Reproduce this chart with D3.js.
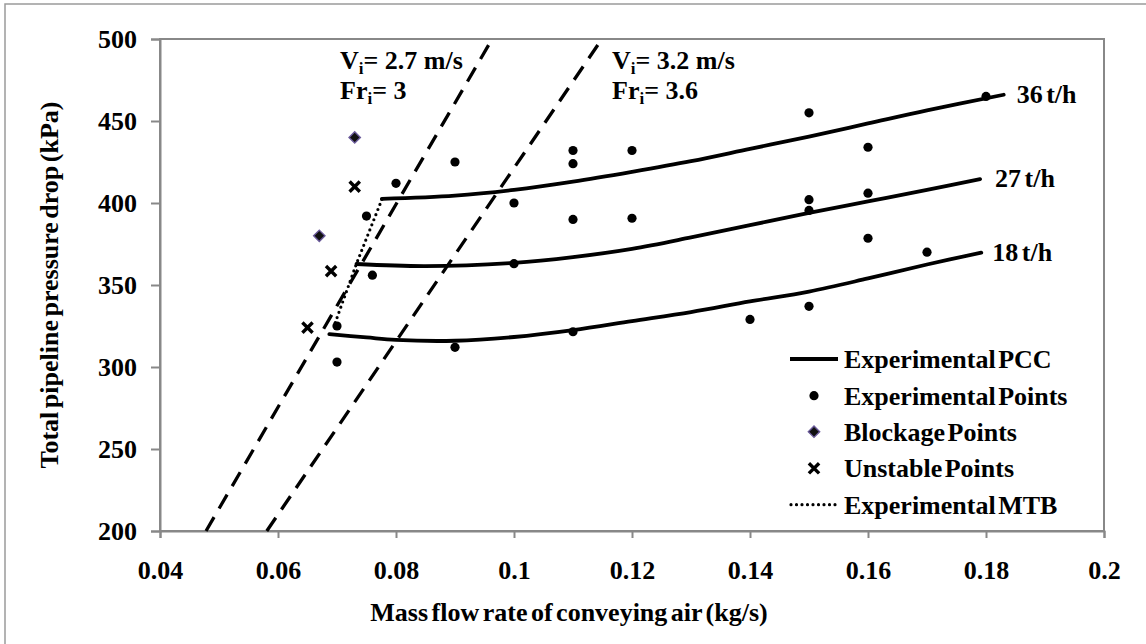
<!DOCTYPE html>
<html>
<head>
<meta charset="utf-8">
<script src="https://cdn.jsdelivr.net/npm/d3@7"></script>
<style>
  body { margin: 0; background: #fff; }
  svg { display: block; font-family: "Liberation Serif", "Times New Roman", serif; font-weight: bold; }
</style>
</head>
<body>
<svg id="chart" width="1146" height="644"></svg>
<script>
// Axis ticks
const xTicks = [0.04, 0.06, 0.08, 0.1, 0.12, 0.14, 0.16, 0.18, 0.2];
const xTickLabels = ["0.04", "0.06", "0.08", "0.1", "0.12", "0.14", "0.16", "0.18", "0.2"];
const yTicks = [200, 250, 300, 350, 400, 450, 500];

// Pressure conveying characteristics (air mass flow kg/s, pressure drop kPa)
const pcc36 = [[0.0776, 402.5], [0.09, 404.5], [0.10, 408], [0.11, 413], [0.12, 419],
               [0.13, 425.5], [0.14, 433], [0.15, 440.5], [0.16, 448.5], [0.17, 456.5], [0.183, 466]];
const pcc27 = [[0.0733, 362.8], [0.085, 361.5], [0.10, 363.5], [0.11, 367], [0.12, 372],
               [0.13, 379], [0.14, 386.5], [0.15, 394], [0.16, 401], [0.17, 408], [0.179, 414.6]];
const pcc18 = [[0.0687, 320], [0.075, 318], [0.08, 316.5], [0.09, 316], [0.10, 318.3], [0.11, 322.5],
               [0.12, 328], [0.13, 333.5], [0.14, 340], [0.15, 346], [0.16, 354], [0.17, 362.5], [0.1792, 369.7]];
const pccLabels = ["36 t/h", "27 t/h", "18 t/h"];

// Measured operating points
const experimentalPoints = [
  [0.07, 303], [0.07, 325], [0.075, 392], [0.076, 356], [0.08, 412], [0.09, 425], [0.09, 312],
  [0.10, 400], [0.10, 363], [0.11, 432], [0.11, 424], [0.11, 390], [0.11, 321.5], [0.12, 432],
  [0.12, 390.7], [0.14, 329], [0.15, 455], [0.15, 402], [0.15, 395.5], [0.15, 337], [0.16, 434],
  [0.16, 406], [0.16, 378.5], [0.17, 370], [0.18, 465]
];
const blockagePoints = [[0.073, 440], [0.067, 380]];
const unstablePoints = [[0.073, 410], [0.069, 358.5], [0.065, 324]];

// Minimum transport boundary
const mtb = [[0.0697, 327], [0.0733, 363], [0.0777, 403]];

// Constant inlet velocity lines
const velocity27 = [[0.0478, 200], [0.0963, 500]];
const velocity32 = [[0.0581, 200], [0.1149, 500]];

const legendLabels = ["Experimental PCC", "Experimental Points", "Blockage Points", "Unstable Points", "Experimental MTB"];

const svg = d3.select("#chart");
const FONT = 26;

// Outer frame of the chart
svg.append("rect")
  .attr("x", 5).attr("y", 4).attr("width", 1160).attr("height", 660)
  .attr("fill", "#fff").attr("stroke", "#9a9a9a").attr("stroke-width", 1.5);

const x = d3.scaleLinear().domain([0.04, 0.2]).range([160, 1104]);
const y = d3.scaleLinear().domain([200, 500]).range([531, 39]);

// Plot area border
svg.append("rect")
  .attr("x", x(0.04)).attr("y", y(500))
  .attr("width", x(0.2) - x(0.04)).attr("height", y(200) - y(500))
  .attr("fill", "none").attr("stroke", "#888").attr("stroke-width", 2);

// Y axis
const yAxis = svg.append("g")
  .attr("transform", `translate(${x(0.04)},0)`)
  .call(d3.axisLeft(y).tickValues(yTicks).tickSize(9).tickPadding(14).tickFormat(d3.format("d")));
yAxis.select(".domain").attr("stroke", "#888").attr("stroke-width", 2);
yAxis.selectAll(".tick line").attr("stroke", "#888").attr("stroke-width", 2);
yAxis.selectAll(".tick text")
  .attr("font-size", FONT).attr("font-family", "Liberation Serif, serif").attr("font-weight", "bold")
  .attr("fill", "#000").attr("dy", "0.34em");

// X axis
const xAxis = svg.append("g")
  .attr("transform", `translate(0,${y(200)})`)
  .call(d3.axisBottom(x).tickValues(xTicks).tickSize(7).tickFormat((d, i) => xTickLabels[i]));
xAxis.select(".domain").attr("stroke", "#888").attr("stroke-width", 2);
xAxis.selectAll(".tick line").attr("stroke", "#888").attr("stroke-width", 2);
xAxis.selectAll(".tick text")
  .attr("font-size", FONT).attr("font-family", "Liberation Serif, serif").attr("font-weight", "bold")
  .attr("fill", "#000").attr("dy", null).attr("y", 48);

// Axis titles
svg.append("text")
  .attr("x", 569).attr("y", 621)
  .attr("text-anchor", "middle").attr("font-size", FONT).attr("word-spacing", -3)
  .text("Mass flow rate of conveying air (kg/s)");
svg.append("text")
  .attr("transform", `translate(58,${(y(200) + y(500)) / 2}) rotate(-90)`)
  .attr("text-anchor", "middle").attr("font-size", FONT).attr("word-spacing", -3)
  .text("Total pipeline pressure drop (kPa)");

const line = d3.line().x(d => x(d[0])).y(d => y(d[1]));
const smooth = d3.line().x(d => x(d[0])).y(d => y(d[1])).curve(d3.curveCatmullRom.alpha(0.5));

// Constant velocity lines
[velocity27, velocity32].forEach(v => {
  svg.append("path").attr("d", line(v))
    .attr("fill", "none").attr("stroke", "#000").attr("stroke-width", 3.3)
    .attr("stroke-dasharray", "16,10");
});

// Conveying characteristics
[pcc36, pcc27, pcc18].forEach(c => {
  svg.append("path").attr("d", smooth(c))
    .attr("fill", "none").attr("stroke", "#000").attr("stroke-width", 3.8)
    .attr("stroke-linecap", "round");
});

// Minimum transport boundary
svg.append("path").attr("d", line(mtb))
  .attr("fill", "none").attr("stroke", "#000").attr("stroke-width", 3.2)
  .attr("stroke-linecap", "round").attr("stroke-dasharray", "0,5.5");

// Markers
const diamond = d3.symbol().type(d3.symbolDiamond2).size(82);
const cross = d3.symbol().type(d3.symbolX).size(70);

svg.append("g").selectAll("circle").data(experimentalPoints).join("circle")
  .attr("cx", d => x(d[0])).attr("cy", d => y(d[1])).attr("r", 4.6).attr("fill", "#000");

svg.append("g").selectAll("path").data(blockagePoints).join("path")
  .attr("d", diamond).attr("transform", d => `translate(${x(d[0])},${y(d[1])})`)
  .attr("fill", "#111").attr("stroke", "#6a5a9a").attr("stroke-width", 1.4);

svg.append("g").selectAll("path").data(unstablePoints).join("path")
  .attr("d", cross).attr("transform", d => `translate(${x(d[0])},${y(d[1])})`)
  .attr("fill", "none").attr("stroke", "#000").attr("stroke-width", 3.4);

// Curve labels, placed after each curve end
[pcc36, pcc27, pcc18].forEach((c, i) => {
  const end = c[c.length - 1];
  svg.append("text")
    .attr("x", x(end[0]) + [13, 15, 11][i]).attr("y", y(end[1]) + 8)
    .attr("font-size", FONT).attr("word-spacing", -3)
    .text(pccLabels[i]);
});

// Velocity / Froude annotations
function annot(px, py, sym, value) {
  const t = svg.append("text").attr("x", px).attr("y", py).attr("font-size", FONT);
  t.append("tspan").text(sym);
  t.append("tspan").attr("font-size", 17).attr("dy", 5).text("i");
  t.append("tspan").attr("dy", -5).text("= " + value);
}
annot(340, 69, "V", "2.7 m/s");
annot(340, 99, "Fr", "3");
annot(612, 69, "V", "3.2 m/s");
annot(612, 99, "Fr", "3.6");

// Legend
const legendRows = [359, 395.7, 431.7, 468.3, 504.7];
const lg = svg.append("g");
lg.append("line").attr("x1", 790).attr("x2", 838).attr("y1", legendRows[0]).attr("y2", legendRows[0])
  .attr("stroke", "#000").attr("stroke-width", 3.8);
lg.append("circle").attr("cx", 814).attr("cy", legendRows[1]).attr("r", 4.6).attr("fill", "#000");
lg.append("path").attr("d", diamond).attr("transform", `translate(814,${legendRows[2]})`)
  .attr("fill", "#111").attr("stroke", "#6a5a9a").attr("stroke-width", 1.4);
lg.append("path").attr("d", cross).attr("transform", `translate(814,${legendRows[3]})`)
  .attr("fill", "none").attr("stroke", "#000").attr("stroke-width", 3.4);
lg.append("line").attr("x1", 791).attr("x2", 836).attr("y1", legendRows[4]).attr("y2", legendRows[4])
  .attr("stroke", "#000").attr("stroke-width", 3.2).attr("stroke-linecap", "round")
  .attr("stroke-dasharray", "0,5.5");
legendLabels.forEach((t, i) => {
  lg.append("text").attr("x", 844).attr("y", legendRows[i] + 9)
    .attr("font-size", FONT).attr("word-spacing", -4).text(t);
});
</script>
</body>
</html>
